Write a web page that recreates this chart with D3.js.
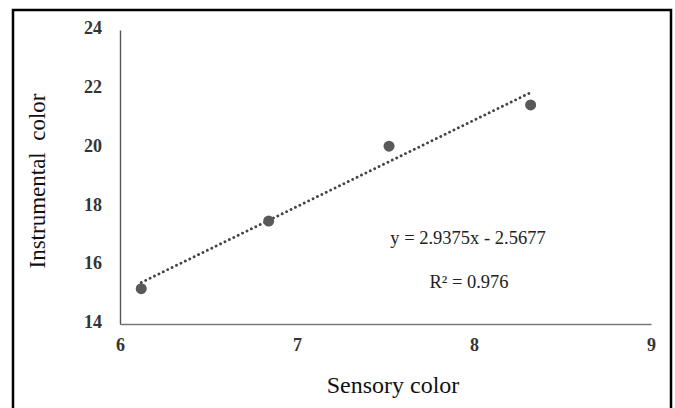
<!DOCTYPE html>
<html>
<head>
<meta charset="utf-8">
<script src="https://cdn.jsdelivr.net/npm/d3@7"></script>
<style>
  body { margin: 0; background: #fff; }
  svg { display: block; font-family: "Liberation Serif", "Times New Roman", serif; }
</style>
</head>
<body>
<svg width="675" height="408"></svg>
<script>
// data
var sensory = [6.12, 6.84, 7.52, 8.32];
var instrumental = [15.2, 17.5, 20.05, 21.45];
var xTicks = [6, 7, 8, 9];
var yTicks = [14, 16, 18, 20, 22, 24];
var slope = 2.9375;
var intercept = -2.5677;
var eqText = "y = 2.9375x - 2.5677";
var r2Text = "R\u00b2 = 0.976";

var svg = d3.select("svg");

// outer frame
svg.append("rect")
  .attr("x", 13).attr("y", 10)
  .attr("width", 658).attr("height", 410)
  .attr("fill", "none")
  .attr("stroke", "#000")
  .attr("stroke-width", 2.5);

var xs = d3.scaleLinear().domain([6, 9]).range([120, 651]);
var ys = d3.scaleLinear().domain([14, 24]).range([324, 30]);

// axes (no tick marks, just labels)
var xAxis = svg.append("g")
  .attr("transform", "translate(0," + ys(14) + ")")
  .call(d3.axisBottom(xs).tickValues(xTicks).tickFormat(d3.format("d"))
    .tickSize(0).tickPadding(14).tickSizeOuter(0))
  .attr("font-size", 18)
  .attr("font-weight", "bold")
  .attr("font-family", "Liberation Serif");
xAxis.select(".domain").attr("stroke", "#777").attr("stroke-width", 1.6);
xAxis.selectAll("text").attr("fill", "#333");

var yAxis = svg.append("g")
  .attr("transform", "translate(" + xs(6) + ",0)")
  .call(d3.axisLeft(ys).tickValues(yTicks).tickFormat(d3.format("d"))
    .tickSize(0).tickPadding(18).tickSizeOuter(0))
  .attr("font-size", 18)
  .attr("font-weight", "bold")
  .attr("font-family", "Liberation Serif");
yAxis.select(".domain").attr("stroke", "#555").attr("stroke-width", 1.4);
yAxis.selectAll("text").attr("fill", "#333").attr("dy", "0.2em");

// trendline from the printed equation
var xmin = d3.min(sensory), xmax = d3.max(sensory);
svg.append("line")
  .attr("x1", xs(xmin)).attr("y1", ys(slope * xmin + intercept))
  .attr("x2", xs(xmax)).attr("y2", ys(slope * xmax + intercept))
  .attr("stroke", "#444")
  .attr("stroke-width", 2.8)
  .attr("stroke-linecap", "round")
  .attr("stroke-dasharray", "0.1,4.8");

// points
svg.selectAll("circle.pt")
  .data(sensory)
  .enter()
  .append("circle")
  .attr("class", "pt")
  .attr("cx", function (d) { return xs(d); })
  .attr("cy", function (d, i) { return ys(instrumental[i]); })
  .attr("r", 5.5)
  .attr("fill", "#595959");

// equation text
svg.append("text")
  .attr("x", 468).attr("y", 244)
  .attr("text-anchor", "middle")
  .attr("font-size", 18.5)
  .attr("fill", "#222")
  .text(eqText);
svg.append("text")
  .attr("x", 469).attr("y", 288)
  .attr("text-anchor", "middle")
  .attr("font-size", 18.5)
  .attr("fill", "#222")
  .text(r2Text);

// axis titles
svg.append("text")
  .attr("x", 393).attr("y", 393)
  .attr("text-anchor", "middle")
  .attr("font-size", 24)
  .attr("fill", "#111")
  .text("Sensory color");
svg.append("text")
  .attr("transform", "translate(45,181) rotate(-90)")
  .attr("text-anchor", "middle")
  .attr("font-size", 23)
  .attr("fill", "#111")
  .style("white-space", "pre")
  .text("Instrumental  color");
</script>
</body>
</html>
